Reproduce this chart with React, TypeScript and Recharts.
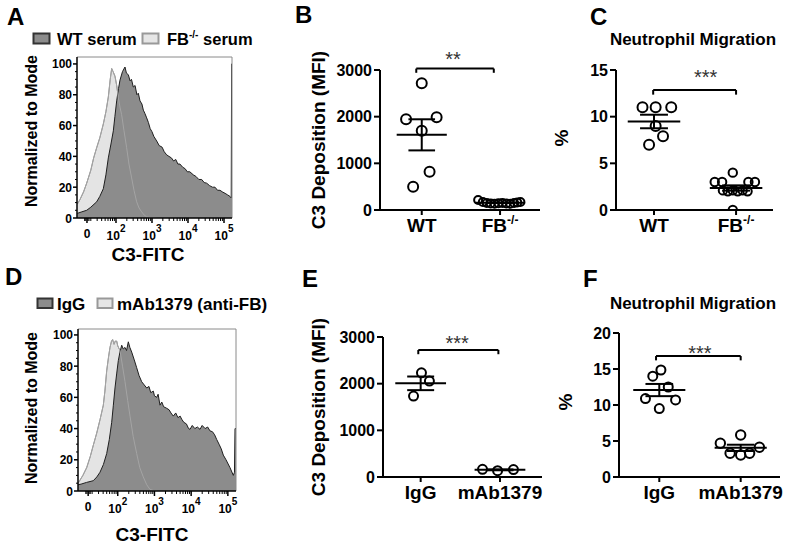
import React from 'react';
import { ComposedChart, Area, Line, Scatter, XAxis, YAxis, ReferenceLine, ReferenceDot } from 'recharts';

const FONT = '"Liberation Sans", Arial, Helvetica, sans-serif';
const PAGE_W = 800;
const PAGE_H = 549;
const AX_W = 40;
const AX_H = 30;

// ---- flow histograms (A, D): x = display position in decades (biexponential, "0" at 1.194), y = % of mode ----
const HIST_X0 = 0.917;
const HIST_X1 = 5.222;
const histTickPos = [1.194, 2, 3, 4, 5];
const histTickExp = ['', '2', '3', '4', '5'];
const histYTicks = [0, 20, 40, 60, 80, 100];

// A: WT serum (dark) / FB-/- serum (light)
const aWtX = [0.925, 1.05, 1.186, 1.3, 1.463, 1.55, 1.648, 1.72, 1.787, 1.86, 1.926, 1.97, 2.019, 2.07, 2.111, 2.18, 2.25, 2.29, 2.343, 2.39, 2.43, 2.481, 2.53, 2.58, 2.62, 2.667, 2.72, 2.76, 2.8, 2.852, 2.9, 2.95, 3.0, 3.05, 3.13, 3.2, 3.28, 3.34, 3.407, 3.47, 3.54, 3.6, 3.66, 3.72, 3.778, 3.85, 3.92, 3.98, 4.05, 4.148, 4.22, 4.3, 4.38, 4.45, 4.519, 4.6, 4.68, 4.75, 4.82, 4.889, 4.95, 5.03, 5.1, 5.167, 5.2, 5.212, 5.222];
const aWtY = [3, 4, 5, 7, 10.5, 14, 19, 28, 39, 48, 56.6, 66, 76, 84, 89.5, 95, 98, 94, 93, 89, 90, 85, 86, 80, 81, 76, 74, 70, 68, 65, 62, 58, 56, 53, 50, 47, 46, 43, 41, 40, 39, 37, 38, 35, 35, 33, 32, 30, 30, 28, 27, 25, 25, 23, 22.6, 21, 20, 20, 18, 18, 17, 16, 15, 14, 13, 100, 100];
const aKoX = [0.925, 1.0, 1.1, 1.186, 1.3, 1.38, 1.463, 1.55, 1.648, 1.72, 1.787, 1.84, 1.88, 1.92, 1.972, 2.02, 2.065, 2.11, 2.157, 2.22, 2.296, 2.36, 2.435, 2.5, 2.574, 2.64, 2.713, 2.78, 2.852, 2.95, 3.13];
const aKoY = [9, 12, 17, 22.6, 31, 39, 45.6, 52, 61, 69, 78.5, 90, 97, 95, 92, 86, 78, 72, 67, 57, 45.6, 35, 26, 18, 10.5, 6.5, 4, 2, 0.7, 0.2, 0];

// D: IgG (dark) / mAb1379 anti-FB (light)
const dIgX = [0.92, 1.0, 1.15, 1.334, 1.43, 1.516, 1.61, 1.699, 1.77, 1.835, 1.88, 1.925, 1.97, 2.015, 2.06, 2.108, 2.15, 2.198, 2.24, 2.288, 2.33, 2.38, 2.45, 2.516, 2.58, 2.653, 2.72, 2.789, 2.85, 2.9, 2.969, 3.0, 3.061, 3.1, 3.151, 3.2, 3.25, 3.334, 3.4, 3.45, 3.514, 3.58, 3.64, 3.7, 3.743, 3.8, 3.87, 3.93, 3.969, 4.03, 4.1, 4.17, 4.241, 4.3, 4.38, 4.45, 4.514, 4.58, 4.64, 4.696, 4.76, 4.82, 4.876, 4.95, 5.058, 5.149, 5.18, 5.195, 5.222];
const dIgY = [4, 4.4, 5.5, 6.6, 9, 12, 17, 24, 33, 44, 55, 66, 75, 83.5, 89, 93.4, 91, 92, 90, 95.6, 92, 89, 84, 79, 74, 70, 68, 66, 67, 63, 64, 61, 60, 62, 55, 57, 54, 53, 52, 50, 48, 50, 47, 48, 46, 44, 43, 40, 39.5, 42, 40, 41, 39.5, 42, 40, 41, 38.5, 38, 36, 33, 30, 27, 23, 20, 15, 10, 12, 40, 40];
const dMabX = [0.92, 1.05, 1.154, 1.25, 1.33, 1.426, 1.52, 1.607, 1.65, 1.699, 1.75, 1.789, 1.83, 1.86, 1.9, 1.93, 1.972, 2.0, 2.061, 2.13, 2.198, 2.27, 2.334, 2.42, 2.516, 2.6, 2.696, 2.79, 2.879, 2.97, 3.06];
const dMabY = [5, 10, 15, 22, 29, 37, 46, 55, 64, 77, 86, 92, 96, 97, 94, 96, 96, 93, 90, 80, 70, 58, 48, 35, 24, 15, 9, 4, 1, 0.3, 0];

// ---- dot plots (B, C, E, F): values and horizontal scatter offsets ----
const bCats = ['WT', 'FB'];
const bSups = ['', '-/-'];
const bWtVals = [2714, 1943, 1986, 1700, 821, 500];
const bWtJit = [0, -0.2, 0.19, 0, 0.1, -0.11];
const bKoVals = [215, 170, 150, 140, 135, 145, 150, 140, 135, 150, 160, 170];
const bKoJit = [-0.28, -0.22, -0.17, -0.12, -0.07, -0.02, 0.03, 0.08, 0.13, 0.18, 0.22, 0.26];

const cCats = ['WT', 'FB'];
const cSups = ['', '-/-'];
const cWtVals = [11.0, 11.0, 11.0, 9.0, 7.9, 7.0];
const cWtJit = [-0.14, 0.02, 0.21, 0.02, 0.11, -0.06];
const cKoVals = [4.0, 3.0, 3.0, 3.0, 3.0, 2.1, 2.0, 2.1, 2.0, 2.1, 2.0, 0];
const cKoJit = [-0.04, -0.26, -0.17, 0.15, 0.23, -0.16, -0.1, -0.04, 0.02, 0.08, 0.14, -0.04];

const eCats = ['IgG', 'mAb1379'];
const eSups = ['', ''];
const eIgVals = [2233, 2055, 1734];
const eIgJit = [0.01, 0.11, -0.09];
const eMabVals = [165, 135, 160];
const eMabJit = [-0.22, -0.03, 0.17];

const fCats = ['IgG', 'mAb1379'];
const fSups = ['', ''];
const fIgVals = [14.86, 14.0, 12.5, 10.9, 10.7, 9.5];
const fIgJit = [0.02, -0.08, 0.11, -0.17, 0.2, 0];
const fMabVals = [4.68, 5.83, 3.29, 3.06, 3.29, 4.13];
const fMabJit = [-0.25, 0, -0.13, 0, 0.11, 0.23];

const mmTicks = [0, 1000, 2000, 3000];
const pct15Ticks = [0, 5, 10, 15];
const pct20Ticks = [0, 5, 10, 15, 20];

type Box = { x0: number; x1: number; y0: number; y1: number };
const marginFor = (b: Box) => ({ left: b.x0 - AX_W, right: PAGE_W - b.x1, top: b.y0, bottom: PAGE_H - b.y1 - AX_H });

const mean = (v: number[]) => v.reduce((a, b) => a + b, 0) / v.length;
const sem = (v: number[]) => {
  const m = mean(v);
  const ss = v.reduce((a, b) => a + (b - m) * (b - m), 0);
  return Math.sqrt(ss / (v.length - 1)) / Math.sqrt(v.length);
};

// minor ticks for the flow axes
const histMinorX = (() => {
  const out = [1.13, 1.16, 1.22, 1.25];
  for (let n = 1; n <= 5; n++) {
    for (let k = 2; k <= 9; k++) {
      const v = n + Math.log10(k);
      if (v > 1.28 && v < HIST_X1) out.push(v);
    }
  }
  return out;
})();
const histXAll = [...histTickPos, ...histMinorX].sort((a, b) => a - b);
const histYAll = (() => {
  const out: number[] = [];
  for (let v = 0; v <= 100; v += 5) out.push(v);
  return out;
})();

type Row = { x: number; wt?: number; ko?: number };
const mergeRows = (wx: number[], wy: number[], kx: number[], ky: number[]): Row[] =>
  [...wx.map((x, i) => ({ x, wt: wy[i] })), ...kx.map((x, i) => ({ x, ko: ky[i] }))].sort((a, b) => a.x - b.x);

const HistXTick = (props: any) => {
  const { x, y, payload } = props;
  const i = histTickPos.indexOf(payload.value);
  if (i < 0) return <line x1={x} x2={x} y1={y} y2={y + 3} stroke="#000" strokeWidth={1} />;
  const exp = histTickExp[i];
  return (
    <g>
      <line x1={x} x2={x} y1={y} y2={y + 5} stroke="#000" strokeWidth={1.5} />
      {exp === '' ? (
        <text x={x} y={y + 20} textAnchor="middle" fontSize={12} fontWeight="bold" fontFamily={FONT} fill="#000">0</text>
      ) : (
        <text x={x} y={y + 22} textAnchor="middle" fontSize={12} fontWeight="bold" fontFamily={FONT} fill="#000">
          10<tspan dy={-8} fontSize={10}>{exp}</tspan>
        </text>
      )}
    </g>
  );
};

const HistYTick = (props: any) => {
  const { x, y, payload } = props;
  const major = histYTicks.includes(payload.value);
  if (!major) return <line x1={x - 2} x2={x} y1={y} y2={y} stroke="#000" strokeWidth={1} />;
  return (
    <g>
      <line x1={x - 4} x2={x} y1={y} y2={y} stroke="#000" strokeWidth={1.5} />
      <text x={x - 5} y={y + 4.5} textAnchor="end" fontSize={12} fontWeight="bold" fontFamily={FONT} fill="#000">
        {payload.value}
      </text>
    </g>
  );
};

const HistPanel: React.FC<{ box: Box; yTop: number; rows: Row[] }> = ({ box, yTop, rows }) => (
  <div style={{ position: 'absolute', left: 0, top: 0 }}>
    <ComposedChart width={PAGE_W} height={PAGE_H} data={rows} margin={marginFor(box)}>
      <XAxis type="number" dataKey="x" domain={[HIST_X0, HIST_X1]} allowDataOverflow ticks={histXAll} interval={0}
        tick={(p: any) => <HistXTick {...p} />} tickLine={false} tickSize={0} tickMargin={0} height={AX_H}
        axisLine={{ stroke: '#000', strokeWidth: 1.5 }} />
      <YAxis type="number" domain={[0, yTop]} allowDataOverflow ticks={histYAll} interval={0}
        tick={(p: any) => <HistYTick {...p} />} tickLine={false} tickSize={0} tickMargin={0} width={AX_W}
        axisLine={{ stroke: '#000', strokeWidth: 1.5 }} />
      <ReferenceLine y={yTop} stroke="#8a8a8a" strokeWidth={1} ifOverflow="visible" />
      <ReferenceLine x={HIST_X1} stroke="#8a8a8a" strokeWidth={1} ifOverflow="visible" />
      <Area dataKey="ko" type="linear" fill="#e4e4e4" fillOpacity={1} stroke="#8a8a8a" strokeWidth={1}
        connectNulls isAnimationActive={false} dot={false} activeDot={false} />
      <Area dataKey="wt" type="linear" fill="#8c8c8c" fillOpacity={1} stroke="#1f1f1f" strokeWidth={1}
        connectNulls isAnimationActive={false} dot={false} activeDot={false} />
      <Line dataKey="ko" type="linear" stroke="#a4a4a4" strokeWidth={1} connectNulls
        isAnimationActive={false} dot={false} activeDot={false} />
    </ComposedChart>
  </div>
);

type Group = { center: number; vals: number[]; jit: number[]; r: number };
type DotProps = {
  box: Box;
  xDomain: [number, number];
  yMax: number;
  yTicks: number[];
  cats: string[];
  sups: string[];
  groups: Group[];
  bracket: { x0: number; x1: number; y: number; drop: number };
  stars: { x: number; y: number; text: string };
};

const DotPanel: React.FC<DotProps> = ({ box, xDomain, yMax, yTicks, cats, sups, groups, bracket, stars }) => {
  const XTick = (p: any) => {
    const { x, y, payload } = p;
    const i = Math.round(payload.value) - 1;
    return (
      <g>
        <line x1={x} x2={x} y1={y} y2={y + 5} stroke="#000" strokeWidth={2} />
        <text x={x} y={y + 22} textAnchor="middle" fontSize={19} fontWeight="bold" fontFamily={FONT} fill="#000">
          {cats[i]}
          {sups[i] ? <tspan dy={-8} fontSize={12}>{sups[i]}</tspan> : null}
        </text>
      </g>
    );
  };
  const YTick = (p: any) => {
    const { x, y, payload } = p;
    return (
      <g>
        <line x1={x - 6} x2={x} y1={y} y2={y} stroke="#000" strokeWidth={2} />
        <text x={x - 8} y={y + 5.5} textAnchor="end" fontSize={16} fontWeight="bold" fontFamily={FONT} fill="#000">
          {payload.value}
        </text>
      </g>
    );
  };
  const line = { stroke: '#000', strokeWidth: 2, ifOverflow: 'visible' as const };
  return (
    <div style={{ position: 'absolute', left: 0, top: 0 }}>
      <ComposedChart width={PAGE_W} height={PAGE_H} margin={marginFor(box)}>
        <XAxis type="number" dataKey="x" domain={xDomain} allowDataOverflow ticks={[1, 2]} interval={0}
          tick={(p: any) => <XTick {...p} />} tickLine={false} tickSize={0} tickMargin={0} height={AX_H}
          axisLine={{ stroke: '#000', strokeWidth: 2 }} />
        <YAxis type="number" dataKey="y" domain={[0, yMax]} allowDataOverflow ticks={yTicks} interval={0}
          tick={(p: any) => <YTick {...p} />} tickLine={false} tickSize={0} tickMargin={0} width={AX_W}
          axisLine={{ stroke: '#000', strokeWidth: 2 }} />
        {groups.map((g, gi) => (
          <Scatter key={`s${gi}`} data={g.vals.map((v, i) => ({ x: g.center + g.jit[i], y: v }))} isAnimationActive={false}
            shape={(p: any) => <circle cx={p.cx} cy={p.cy} r={g.r} fill="none" stroke="#000" strokeWidth={2} />} />
        ))}
        {groups.map((g, gi) => {
          const m = mean(g.vals);
          const s = sem(g.vals);
          return [
            <ReferenceLine key={`m${gi}`} segment={[{ x: g.center - 0.32, y: m }, { x: g.center + 0.32, y: m }]} {...line} />,
            <ReferenceLine key={`u${gi}`} segment={[{ x: g.center - 0.17, y: m + s }, { x: g.center + 0.17, y: m + s }]} {...line} />,
            <ReferenceLine key={`l${gi}`} segment={[{ x: g.center - 0.17, y: m - s }, { x: g.center + 0.17, y: m - s }]} {...line} />,
            <ReferenceLine key={`v${gi}`} segment={[{ x: g.center, y: m - s }, { x: g.center, y: m + s }]} {...line} />,
          ];
        })}
        <ReferenceLine segment={[{ x: bracket.x0, y: bracket.y }, { x: bracket.x1, y: bracket.y }]} {...line} />
        <ReferenceLine segment={[{ x: bracket.x0, y: bracket.y }, { x: bracket.x0, y: bracket.y - bracket.drop }]} {...line} />
        <ReferenceLine segment={[{ x: bracket.x1, y: bracket.y }, { x: bracket.x1, y: bracket.y - bracket.drop }]} {...line} />
        <ReferenceDot x={stars.x} y={stars.y} r={1} ifOverflow="visible"
          shape={(p: any) => (
            <text x={p.cx} y={p.cy + 11} textAnchor="middle" fontSize={20} fontFamily={FONT} fill="#333">{stars.text}</text>
          )} />
      </ComposedChart>
    </div>
  );
};

const T: React.FC<{ x: number; y: number; size: number; anchor?: string; rotate?: boolean; children: React.ReactNode }> = ({ x, y, size, anchor = 'start', rotate, children }) => (
  <text x={rotate ? 0 : x} y={rotate ? 0 : y} transform={rotate ? `translate(${x},${y}) rotate(-90)` : undefined}
    textAnchor={anchor as any} fontSize={size} fontWeight="bold" fontFamily={FONT} fill="#000">
    {children}
  </text>
);

const Overlay: React.FC = () => (
  <svg width={PAGE_W} height={PAGE_H} style={{ position: 'absolute', left: 0, top: 0, pointerEvents: 'none' }}>
    <T x={7} y={25} size={24}>A</T>
    <T x={295} y={23} size={24}>B</T>
    <T x={590} y={25} size={24}>C</T>
    <T x={5} y={285} size={24}>D</T>
    <T x={302} y={287} size={24}>E</T>
    <T x={583} y={287} size={24}>F</T>

    <rect x={33.5} y={33.5} width={16} height={10} fill="#8c8c8c" stroke="#333" strokeWidth={2} />
    <T x={57} y={45} size={16.5}>WT serum</T>
    <rect x={142.5} y={33.5} width={16} height={10} fill="#e6e6e6" stroke="#999" strokeWidth={2} />
    <T x={167} y={45} size={16.5}>FB<tspan dy={-7} fontSize={10}>-/-</tspan><tspan dy={7}> serum</tspan></T>

    <rect x={37.5} y={298.5} width={15} height={9.5} fill="#8c8c8c" stroke="#333" strokeWidth={2} />
    <T x={57} y={310} size={17}>IgG</T>
    <rect x={97.5} y={298.5} width={15} height={9.5} fill="#e6e6e6" stroke="#999" strokeWidth={2} />
    <T x={117} y={310} size={17}>mAb1379 (anti-FB)</T>

    <T x={693} y={45} size={17} anchor="middle">Neutrophil Migration</T>
    <T x={693} y={309} size={17} anchor="middle">Neutrophil Migration</T>

    <T x={148} y={261} size={19} anchor="middle">C3-FITC</T>
    <T x={152} y={541} size={19} anchor="middle">C3-FITC</T>

    <T x={37} y={131} size={16} anchor="middle" rotate>Normalized to Mode</T>
    <T x={37} y={408} size={16} anchor="middle" rotate>Normalized to Mode</T>
    <T x={325} y={140} size={19} anchor="middle" rotate>C3 Deposition (MFI)</T>
    <T x={325} y={407} size={19} anchor="middle" rotate>C3 Deposition (MFI)</T>
    <T x={568} y={138} size={19} anchor="middle" rotate>%</T>
    <T x={572} y={402} size={19} anchor="middle" rotate>%</T>
  </svg>
);

const App: React.FC = () => (
  <div style={{ position: 'absolute', left: 0, top: 0, width: PAGE_W, height: PAGE_H, background: '#fff', overflow: 'hidden' }}>
    <HistPanel box={{ x0: 77, x1: 232, y0: 57, y1: 218 }} yTop={104.5} rows={mergeRows(aWtX, aWtY, aKoX, aKoY)} />
    <HistPanel box={{ x0: 78, x1: 236, y0: 329, y1: 491 }} yTop={103.8} rows={mergeRows(dIgX, dIgY, dMabX, dMabY)} />

    <DotPanel box={{ x0: 380, x1: 540, y0: 70, y1: 210 }} xDomain={[0.467, 2.51]} yMax={3000} yTicks={mmTicks}
      cats={bCats} sups={bSups}
      groups={[{ center: 1, vals: bWtVals, jit: bWtJit, r: 5 }, { center: 2, vals: bKoVals, jit: bKoJit, r: 4 }]}
      bracket={{ x0: 0.93, x1: 1.92, y: 3030, drop: 90 }} stars={{ x: 1.4, y: 3321, text: '**' }} />
    <DotPanel box={{ x0: 616, x1: 773, y0: 70, y1: 210 }} xDomain={[0.537, 2.45]} yMax={15} yTicks={pct15Ticks}
      cats={cCats} sups={cSups}
      groups={[{ center: 1, vals: cWtVals, jit: cWtJit, r: 5 }, { center: 2, vals: cKoVals, jit: cKoJit, r: 4.2 }]}
      bracket={{ x0: 0.99, x1: 2.0, y: 12.86, drop: 0.5 }} stars={{ x: 1.63, y: 14.68, text: '***' }} />
    <DotPanel box={{ x0: 383, x1: 542, y0: 337, y1: 477 }} xDomain={[0.525, 2.53]} yMax={3000} yTicks={mmTicks}
      cats={eCats} sups={eSups}
      groups={[{ center: 1, vals: eIgVals, jit: eIgJit, r: 4.5 }, { center: 2, vals: eMabVals, jit: eMabJit, r: 4.5 }]}
      bracket={{ x0: 0.97, x1: 1.98, y: 2721, drop: 90 }} stars={{ x: 1.46, y: 2957, text: '***' }} />
    <DotPanel box={{ x0: 619, x1: 780, y0: 333, y1: 477 }} xDomain={[0.505, 2.483]} yMax={20} yTicks={pct20Ticks}
      cats={fCats} sups={fSups}
      groups={[{ center: 1, vals: fIgVals, jit: fIgJit, r: 4.5 }, { center: 2, vals: fMabVals, jit: fMabJit, r: 4.7 }]}
      bracket={{ x0: 0.96, x1: 2.0, y: 16.8, drop: 0.6 }} stars={{ x: 1.5, y: 17.8, text: '***' }} />

    <Overlay />
  </div>
);

export default App;
